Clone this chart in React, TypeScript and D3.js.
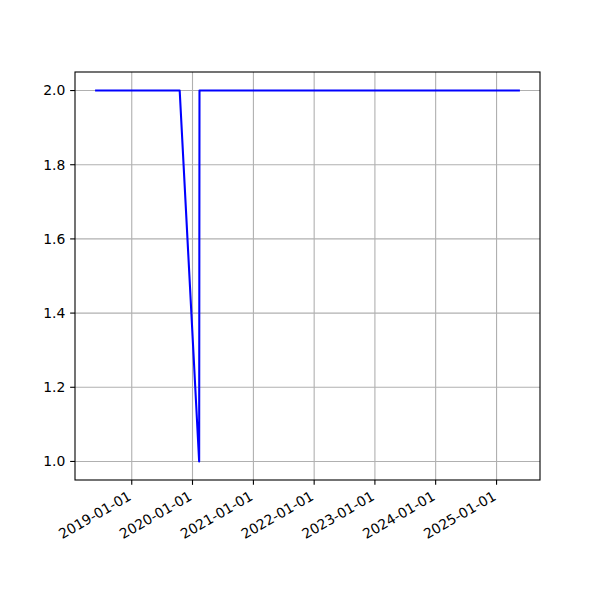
import React from "react";
import * as d3 from "d3";

const dates = ["2018-06-01", "2019-10-16", "2020-02-10", "2020-02-12", "2025-05-15"];
const values = [2, 2, 1, 2, 2];
const xTickLabels = ["2019-01-01", "2020-01-01", "2021-01-01", "2022-01-01", "2023-01-01", "2024-01-01", "2025-01-01"];
const yTicks = [1.0, 1.2, 1.4, 1.6, 1.8, 2.0];

const W = 600, H = 600;
const L = 75, R = 540, T = 72, B = 480;
const FONT = "DejaVu Sans, sans-serif";
const FS = 13.9;

export default function App() {
  const parse = d3.utcParse("%Y-%m-%d");
  const pts = dates.map((d, i) => ({ t: parse(d)!, v: values[i] }));
  const tmin = +pts[0].t, tmax = +pts[pts.length - 1].t;
  const pad = (tmax - tmin) * 0.05;
  const x = d3.scaleUtc().domain([new Date(tmin - pad), new Date(tmax + pad)]).range([L, R]);
  const y = d3.scaleLinear().domain([0.95, 2.05]).range([B, T]);
  const line = d3.line<{ t: Date; v: number }>().x(d => x(d.t)).y(d => y(d.v));
  const xt = xTickLabels.map(s => ({ s, px: x(parse(s)!) }));

  return (
    <div style={{ position: "absolute", left: 0, top: 0 }}>
      <svg width={W} height={H} style={{ display: "block", background: "#fff" }}>
        <rect x={0} y={0} width={W} height={H} fill="#fff" />
        {xt.map(t => (
          <line key={"gx" + t.s} x1={t.px} x2={t.px} y1={T} y2={B} stroke="#b0b0b0" strokeWidth={1.1} />
        ))}
        {yTicks.map(v => (
          <line key={"gy" + v} x1={L} x2={R} y1={y(v)} y2={y(v)} stroke="#b0b0b0" strokeWidth={1.1} />
        ))}
        <path d={line(pts)!} fill="none" stroke="#0000ff" strokeWidth={2.08} strokeLinejoin="round" strokeLinecap="square" />
        <rect x={L} y={T} width={R - L} height={B - T} fill="none" stroke="#000" strokeWidth={1.1} />
        {xt.map(t => (
          <g key={"tx" + t.s}>
            <line x1={t.px} x2={t.px} y1={B} y2={B + 4.86} stroke="#000" strokeWidth={1.1} />
            <text
              transform={`translate(${t.px + 0.5},${B + 19})rotate(-30)`}
              textAnchor="end"
              fontFamily={FONT}
              fontSize={FS}
              fill="#000"
            >
              {t.s}
            </text>
          </g>
        ))}
        {yTicks.map(v => (
          <g key={"ty" + v}>
            <line x1={L - 4.86} x2={L} y1={y(v)} y2={y(v)} stroke="#000" strokeWidth={1.1} />
            <text x={L - 9.7} y={y(v)} dy="0.35em" textAnchor="end" fontFamily={FONT} fontSize={FS} fill="#000">
              {v.toFixed(1)}
            </text>
          </g>
        ))}
      </svg>
    </div>
  );
}
